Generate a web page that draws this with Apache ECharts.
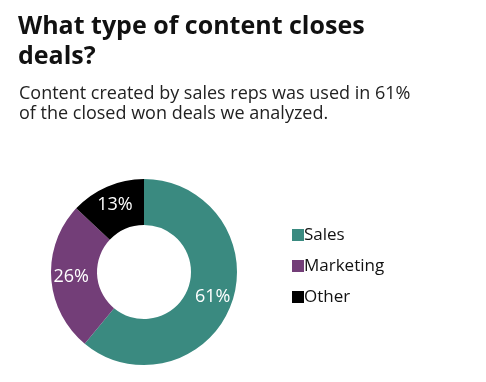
<!DOCTYPE html>
<html><head><meta charset="utf-8">
<script src="https://cdn.jsdelivr.net/npm/echarts@6/dist/echarts.min.js"></script>
<style>html,body{margin:0;padding:0;background:#fff}#c{width:486px;height:382px}</style>
</head><body><div id="c"></div>
<script>
const categories = ['Sales', 'Marketing', 'Other'];
const values = [61, 26, 13];
const colors = ['#3a8a80', '#733e78', '#000000'];

const chart = echarts.init(document.getElementById('c'), null, {renderer: 'canvas'});
chart.setOption({
  animation: false,
  color: colors,
  title: [{
    text: 'What type of content closes\ndeals?',
    left: 13, top: 7,
    textStyle: {fontFamily: 'Open Sans', fontWeight: 'bold', fontSize: 25, lineHeight: 30, color: '#111'}
  }, {
    text: 'Content created by sales reps was used in 61%\nof the closed won deals we analyzed.',
    left: 14, top: 79,
    textStyle: {fontFamily: 'Open Sans', fontWeight: 'normal', fontSize: 18, lineHeight: 20, color: '#222'}
  }],
  legend: {
    orient: 'vertical', left: 287, top: 221,
    icon: 'rect', itemWidth: 12, itemHeight: 12, itemGap: 13,
    textStyle: {fontFamily: 'Open Sans', fontSize: 17, lineHeight: 18, color: '#111', padding: [0,0,0,-5]},
    data: categories
  },
  series: [{
    type: 'pie',
    center: [144, 272],
    radius: [47, 93],
    startAngle: 90,
    clockwise: true,
    label: {show: true, position: 'inside', formatter: '{c}%', color: '#fff', fontFamily: 'Open Sans', fontSize: 18},
    labelLine: {show: false},
    itemStyle: {borderWidth: 0},
    emphasis: {disabled: true},
    data: categories.map((n, i) => ({name: n, value: values[i]}))
  }]
});
</script></body></html>
